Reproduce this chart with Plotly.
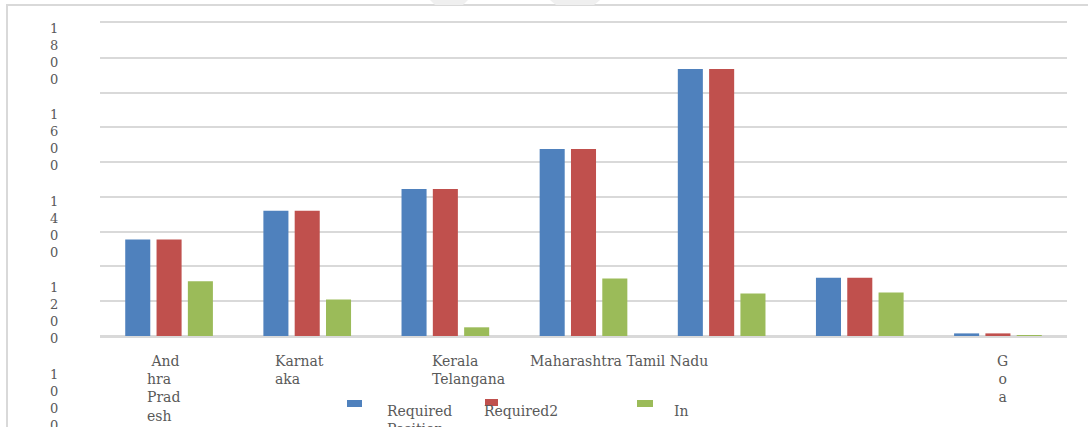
import plotly.graph_objects as go

# Staffing by state: required positions vs. those in place
states = ["Andhra Pradesh", "Karnataka", "Kerala", "Maharashtra",
          "Tamil Nadu", "Telangana", "Goa"]
required_position = [555, 720, 845, 1075, 1535, 335, 15]
required2 = [555, 720, 845, 1075, 1535, 335, 15]
in_position = [315, 210, 50, 330, 245, 250, 1]

series_names = ["Required Position", "Required2", "In"]
series_colors = ["#4F81BD", "#C0504D", "#9BBB59"]

# Axis label text as it is laid out (wrapped into narrow cells)
y_tick_labels = ["1800", "1600", "1400", "1200", "1000"]
x_label_texts = ["\u00a0And<br>hra<br>Prad<br>esh", "Karnat<br>aka",
                 "Kerala<br>Telangana", "Maharashtra Tamil Nadu", "G<br>o<br>a"]
x_label_states = ["Andhra Pradesh", "Karnataka", "Kerala", "Maharashtra", "Goa"]
legend_texts = ["Required<br>Position", "Required2", "In"]

W, H = 1088, 427
ML, MR, MT, MB = 100, 21, 23, 91
PW, PH = W - ML - MR, H - MT - MB

TEXT = "#595959"
GRID = "#d9d9d9"
FONT = "DejaVu Serif"


def px_x(px):
    return (px - ML) / PW


def px_y(py):
    return (H - MB - py) / PH


fig = go.Figure()
for name, vals, color in zip(series_names,
                             [required_position, required2, in_position],
                             series_colors):
    fig.add_trace(go.Bar(x=states, y=vals, name=name,
                         marker=dict(color=color, line=dict(width=0)),
                         showlegend=False))

annotations = []

# stacked-digit value labels down the left side
for i, lab in enumerate(y_tick_labels):
    annotations.append(dict(
        text="<br>".join(lab), xref="paper", yref="paper",
        x=px_x(54), y=px_y(53.5 + 86.6 * i), xanchor="center", yanchor="middle",
        showarrow=False, align="center",
        font=dict(family=FONT, size=13, color=TEXT)))

# category labels below the bars
x_shifts = [-24, -34, -15, -56, 5]
for txt, st, sh in zip(x_label_texts, x_label_states, x_shifts):
    centered = st == "Goa"
    annotations.append(dict(
        text=txt, xref="x", yref="paper", x=st, y=px_y(351),
        xanchor="center" if centered else "left", yanchor="top",
        xshift=sh, showarrow=False, align="center" if centered else "left",
        font=dict(family=FONT, size=14, color=TEXT)))

# legend row
legend_swatch_px = [(347, 362, 400, 407), (485, 498, 399, 406), (637, 653, 400, 407)]
legend_text_px = [385, 482, 672]
shapes = []
for txt, tx in zip(legend_texts, legend_text_px):
    annotations.append(dict(
        text=txt, xref="paper", yref="paper", x=px_x(tx), y=px_y(401),
        xanchor="left", yanchor="top", showarrow=False, align="left",
        font=dict(family=FONT, size=14, color=TEXT)))
for (x0, x1, y0, y1), color in zip(legend_swatch_px, series_colors):
    shapes.append(dict(type="rect", xref="paper", yref="paper",
                       x0=px_x(x0), x1=px_x(x1), y0=px_y(y0), y1=px_y(y1),
                       fillcolor=color, line=dict(width=0), layer="above"))

# chart frame
shapes.append(dict(type="rect", xref="paper", yref="paper",
                   x0=px_x(7), x1=px_x(1120), y0=px_y(5), y1=px_y(460),
                   line=dict(color=GRID, width=2), fillcolor="rgba(0,0,0,0)",
                   layer="below"))

# faint background marks along the top edge
for pts in ([(430, 0), (468, 0), (463, 5), (435, 5)],
            [(550, 0), (600, 0), (594, 5), (556, 5)]):
    path = "M " + " L ".join(f"{px_x(a)},{px_y(b)}" for a, b in pts) + " Z"
    shapes.append(dict(type="path", xref="paper", yref="paper", path=path,
                       fillcolor="#efefef", line=dict(width=0), layer="below"))

fig.update_layout(
    width=W, height=H,
    margin=dict(l=ML, r=MR, t=MT, b=MB, pad=0),
    paper_bgcolor="white", plot_bgcolor="white",
    barmode="group", bargap=0.32, bargroupgap=0.2,
    showlegend=False,
    xaxis=dict(type="category", showticklabels=False, showgrid=False,
               showline=True, mirror=True, linecolor=GRID, linewidth=1.5,
               zeroline=False, ticks=""),
    yaxis=dict(range=[0, 1800], dtick=200, showticklabels=False,
               showgrid=True, gridcolor=GRID, gridwidth=1.5,
               zeroline=True, zerolinecolor=GRID, zerolinewidth=1.5,
               showline=False, ticks=""),
    annotations=annotations,
    shapes=shapes,
)

fig.write_html("out.html", config={"displayModeBar": False})
